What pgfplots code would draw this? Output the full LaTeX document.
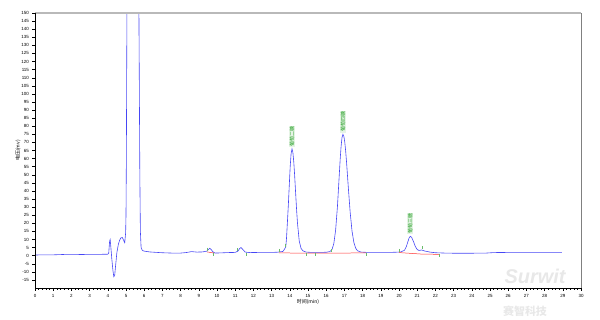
\documentclass[border=0pt]{standalone}
\usepackage{pgfplots}
\pgfplotsset{compat=1.18}
\usepackage{fontspec}
\setmainfont{Liberation Sans}
\newfontfamily\cjk{Noto Sans CJK SC}
\definecolor{sigblue}{RGB}{70,70,245}
\definecolor{pkgreen}{RGB}{40,160,40}
\definecolor{bgray}{RGB}{185,185,185}
\begin{document}
\begin{tikzpicture}
\begin{axis}[
  scale only axis,
  width=546bp, height=275bp,
  xmin=0, xmax=30, ymin=-20, ymax=150,
  axis line style={draw=none},
  xtick={0,1,...,30},
  minor x tick num=4,
  ytick={-15,-10,...,150},
  tick align=outside,
  tick style={black, line width=0.4pt},
  major tick length=2.5bp,
  minor tick length=1.5bp,
  ticklabel style={font=\fontsize{4.5}{5}\selectfont},
  /pgf/number format/assume math mode=true,
  xtick pos=bottom, ytick pos=left,
  xlabel={\cjk\fontsize{5}{6}\selectfont 时间(min)},
  ylabel={\cjk\fontsize{5}{6}\selectfont 电压(mv)},
  xlabel style={yshift=5bp},
  ylabel style={yshift=-6bp},
  clip=true,
]
\addplot[sigblue, line width=0.6pt] coordinates {
(0,0.4)(0.5,0.5)(1,0.5)(1.5,0.7)(2,0.6)(2.5,0.7)(3,0.8)(3.5,0.8)(4,0.9)(4.05,1.5)(4.1,9)(4.13,10)(4.17,5)(4.22,-2)(4.28,-9)(4.33,-13)(4.38,-12)(4.43,-6)(4.5,2)(4.58,7)(4.65,9.5)(4.72,11)(4.8,11.2)(4.87,9.5)(4.93,8)(4.98,14)(5.0,25)(5.02,60)(5.04,120)(5.06,170)(5.70,170)(5.73,110)(5.76,50)(5.79,15)(5.83,5)(5.9,3.2)(6.0,2.8)(6.3,2.3)(6.7,2)(7,1.8)(7.5,1.6)(8,1.6)(8.3,1.9)(8.6,2.5)(8.9,2.2)(9.2,2.3)(9.45,2.8)(9.55,4)(9.6,4.6)(9.68,3.8)(9.78,2.3)(9.9,1.6)(10.2,1.7)(10.6,1.9)(11.0,2.0)(11.15,2.8)(11.25,4.5)(11.32,5)(11.42,3.8)(11.55,2.2)(11.8,1.9)(12.3,2)(12.8,2)(13.3,2.1)(13.5,2.4)(13.62,2.6)(13.72,4.2)(13.78,5.5)(13.82,11)(13.87,20.9)(13.92,31.3)(13.97,43.2)(14.02,54.7)(14.07,62.9)(14.12,66)(14.17,63.8)(14.22,57.7)(14.27,48.9)(14.32,38.8)(14.37,29)(14.42,20.4)(14.52,8.9)(14.62,4.5)(14.72,3)(14.9,2.2)(15.2,2)(15.6,2)(16.0,2.1)(16.2,2.5)(16.32,3.8)(16.42,7.5)(16.52,16)(16.62,30.8)(16.72,50.3)(16.77,59.9)(16.82,67.8)(16.87,73.1)(16.92,75)(16.97,73.8)(17.02,70.2)(17.07,64.6)(17.12,57.5)(17.22,41.4)(17.32,26.4)(17.42,15.1)(17.52,8.2)(17.62,4.6)(17.72,3)(17.92,2.2)(18.3,2)(18.8,2)(19.3,2)(19.8,2.1)(20.1,2.3)(20.3,3.3)(20.4,5.5)(20.5,9)(20.55,10.8)(20.62,12)(20.7,11.2)(20.8,8.6)(20.9,5.6)(21.0,3.8)(21.1,3.2)(21.25,3.5)(21.4,2.9)(21.7,2.2)(22,1.8)(22.5,1.6)(23,1.5)(24,1.5)(24.8,1.6)(25.2,1.9)(26,2)(27,2)(28,2)(28.95,2)
};
% integration baselines
\addplot[red!80, line width=0.5pt] coordinates {(9.45,2.3)(9.85,1.6)};
\addplot[red!80, line width=0.5pt] coordinates {(13.4,1.7)(15.4,1.5)(18.2,1.7)};
\addplot[red!80, line width=0.5pt] coordinates {(20.0,1.9)(21.2,1.0)(22.2,0.8)};
% peak start/end marks
\addplot[only marks, mark=|, mark size=1.5bp, pkgreen!70, mark options={line width=0.4pt}] coordinates {
(9.45,4)(9.8,0.5)(11.1,3.5)(11.6,0.6)(13.4,3.3)(13.75,6)(14.9,1)(15.4,0.6)(16.3,3.3)(18.2,1)(20.0,3.3)(21.25,5)(22.2,0.2)};
% peak labels
\node[rotate=90, anchor=west, text=pkgreen, fill=pkgreen!12, font=\cjk\fontsize{5}{5}\selectfont, inner sep=0.6bp] at (axis cs:14.12,67) {葡萄二糖};
\node[rotate=90, anchor=west, text=pkgreen, fill=pkgreen!12, font=\cjk\fontsize{5}{5}\selectfont, inner sep=0.6bp] at (axis cs:16.92,76) {葡萄四糖};
\node[rotate=90, anchor=west, text=pkgreen, fill=pkgreen!12, font=\cjk\fontsize{5}{5}\selectfont, inner sep=0.6bp] at (axis cs:20.62,13) {葡萄三糖};
\end{axis}
% frame
\draw[bgray, line width=2.5pt] (0,275bp) -- (546bp,275bp);
\draw[gray, line width=0.6pt] (546bp,0) -- (546bp,275bp);
\draw[black, line width=0.8pt] (0,275bp) -- (0,0) -- (546bp,0);
% watermark
\node[text=black!9, font=\bfseries\itshape\fontsize{20}{20}\selectfont, anchor=center] at (500bp,12bp) {Surwit};
\node[text=black!9, font=\cjk\bfseries\fontsize{11}{11}\selectfont, anchor=center] at (490bp,-23bp) {赛智科技};
% bounding box 600x318
\path (-35bp,-30bp) rectangle (565bp,288bp);
\end{tikzpicture}
\end{document}
